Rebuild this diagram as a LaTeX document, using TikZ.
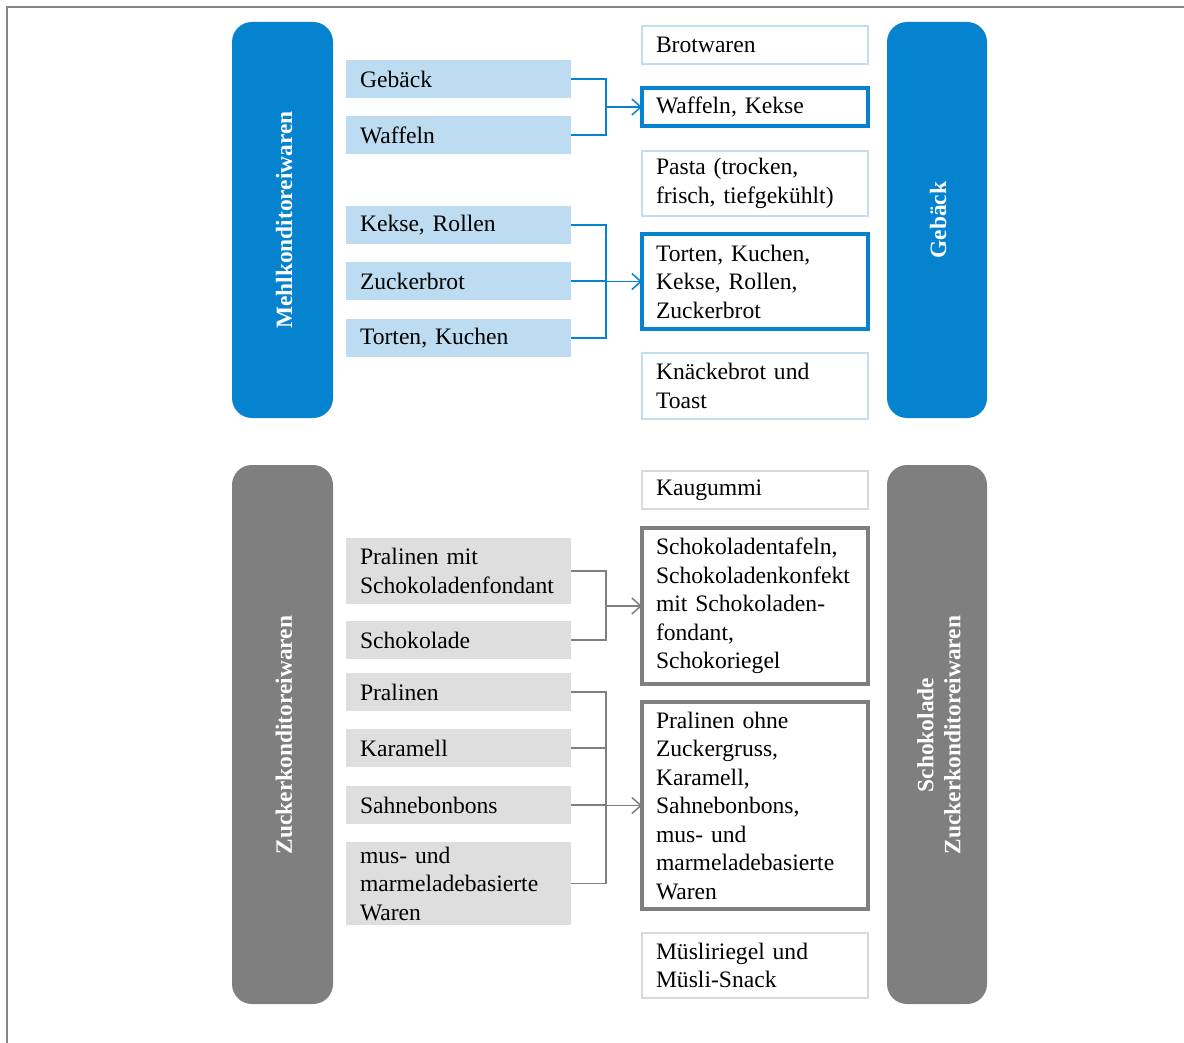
\documentclass[tikz,border=0pt]{standalone}
\usepackage{fontspec}
\setmainfont{Liberation Serif}
\usetikzlibrary{arrows.meta}
\definecolor{cblue}{HTML}{0683CF}
\definecolor{clblue}{HTML}{BDDCF1}
\definecolor{clbord}{HTML}{C3DDF0}
\definecolor{cgray}{HTML}{7F7F7F}
\definecolor{clgray}{HTML}{DEDEDE}
\definecolor{cgbord}{HTML}{D9D9D9}
\definecolor{cframe}{HTML}{858585}
\tikzset{
  every node/.style={font=\fontsize{23.6}{28.5}\selectfont},
  vtext/.style={rotate=90, text=white, align=center, font=\fontsize{23.4}{27}\selectfont\bfseries},
  leftbox/.style={anchor=north west, minimum width=225pt, text width=197pt, inner xsep=14pt, inner ysep=0pt, outer sep=0pt, align=left, draw=none, rectangle},
  rightbox/.style={anchor=north west, minimum width=225pt, text width=198pt, inner xsep=14pt, inner ysep=0pt, outer sep=0pt, align=left, rectangle},
  lb/.style={leftbox, fill=clblue},
  lg/.style={leftbox, fill=clgray},
  rbthin/.style={rightbox, draw=clbord, line width=2pt},
  rbthick/.style={rightbox, draw=cblue, line width=3.5pt},
  rgthin/.style={rightbox, draw=cgbord, line width=2pt},
  rgthick/.style={rightbox, draw=cgray, line width=3.5pt},
  bline/.style={draw=cblue, line width=1.5pt},
  gline/.style={draw=cgray, line width=1.5pt},
  barb/.style={-{Straight Barb[length=9pt,width=16pt,line width=1.5pt]}},
}
\begin{document}
\begin{tikzpicture}[x=1pt,y=-1pt]
\useasboundingbox (0,0) rectangle (1184,1043);
\draw[cframe, line width=2pt] (7,1043) -- (7,7) -- (1184,7);

% big side boxes
\fill[cblue, rounded corners=20pt] (232,22) rectangle (333,418);
\fill[cblue, rounded corners=20pt] (887,22) rectangle (987,418);
\fill[cgray, rounded corners=20pt] (232,465) rectangle (333,1004);
\fill[cgray, rounded corners=20pt] (887,465) rectangle (987,1004);
\node[vtext] (t1) at (284,220) {Mehlkonditoreiwaren};
\node[vtext] (t2) at (938,220) {Gebäck};
\node[vtext] (t3) at (284,735) {Zuckerkonditoreiwaren};
\node[vtext] (t4) at (939,735) {Schokolade\\Zuckerkonditoreiwaren};

% left blue boxes
\node[lb, minimum height=38pt] (geb) at (346,60) {Gebäck};
\node[lb, minimum height=38pt] (waf) at (346,116) {Waffeln};
\node[lb, minimum height=38pt] (kr) at (346,206) {Kekse, Rollen};
\node[lb, minimum height=38pt] (zb) at (346,262) {Zuckerbrot};
\node[lb, minimum height=38pt] (tk) at (346,319) {Torten, Kuchen};

% right blue boxes
\node[rbthin, minimum height=38pt] (brot) at (642,26) {Brotwaren};
\node[rbthick, minimum height=38pt] (wk) at (642,88) {Waffeln, Kekse};
\node[rbthin, minimum height=65pt] (pasta) at (642,151) {Pasta (trocken,\\frisch, tiefgekühlt)};
\node[rbthick, minimum height=95pt] (tkk) at (642,234) {Torten, Kuchen,\\Kekse, Rollen,\\Zuckerbrot};
\node[rbthin, minimum height=66pt] (kn) at (642,353) {Knäckebrot und\\Toast};

% left gray boxes
\node[lg, minimum height=66pt] (prm) at (346,538) {Pralinen mit\\Schokoladenfondant};
\node[lg, minimum height=38pt] (sch) at (346,621) {Schokolade};
\node[lg, minimum height=38pt] (pra) at (346,673) {Pralinen};
\node[lg, minimum height=38pt] (kar) at (346,729) {Karamell};
\node[lg, minimum height=38pt] (sah) at (346,786) {Sahnebonbons};
\node[lg, minimum height=83pt] (mus) at (346,842) {mus- und\\marmeladebasierte\\Waren};

% right gray boxes
\node[rgthin, minimum height=38pt] (kau) at (642,471) {Kaugummi};
\node[rgthick, minimum height=156pt] (schok) at (642,528) {Schokoladentafeln,\\Schokoladenkonfekt\\mit Schokoladen-\\fondant,\\Schokoriegel};
\node[rgthick, minimum height=207pt] (prao) at (642,702) {Pralinen ohne\\Zuckergruss,\\Karamell,\\Sahnebonbons,\\mus- und\\marmeladebasierte\\Waren};
\node[rgthin, minimum height=65pt] (mue) at (642,933) {Müsliriegel und\\Müsli-Snack};

% connectors
\coordinate (j1) at (606,107);
\coordinate (j2) at (606,281.5);
\coordinate (j3) at (606,606);
\coordinate (j4) at (606,805.5);

\draw[bline] (geb.east) -| (j1);
\draw[bline] (waf.east) -| (j1);
\draw[bline, barb] (j1) -- (j1 -| wk.west);

\draw[bline] (kr.east) -| (j2);
\draw[bline] (tk.east) -| (j2);
\draw[bline] (zb.east) -- (zb.east -| j2);
\draw[bline, barb] (j2) -- (j2 -| tkk.west);

\draw[gline] (prm.east) -| (j3);
\draw[gline] (sch.east) -| (j3);
\draw[gline, barb] (j3) -- (j3 -| schok.west);

\draw[gline] (pra.east) -| (j4);
\draw[gline] (mus.east) -| (j4);
\draw[gline] (kar.east) -- (kar.east -| j4);
\draw[gline] (sah.east) -- (sah.east -| j4);
\draw[gline, barb] (j4) -- (j4 -| prao.west);
\end{tikzpicture}
\end{document}
